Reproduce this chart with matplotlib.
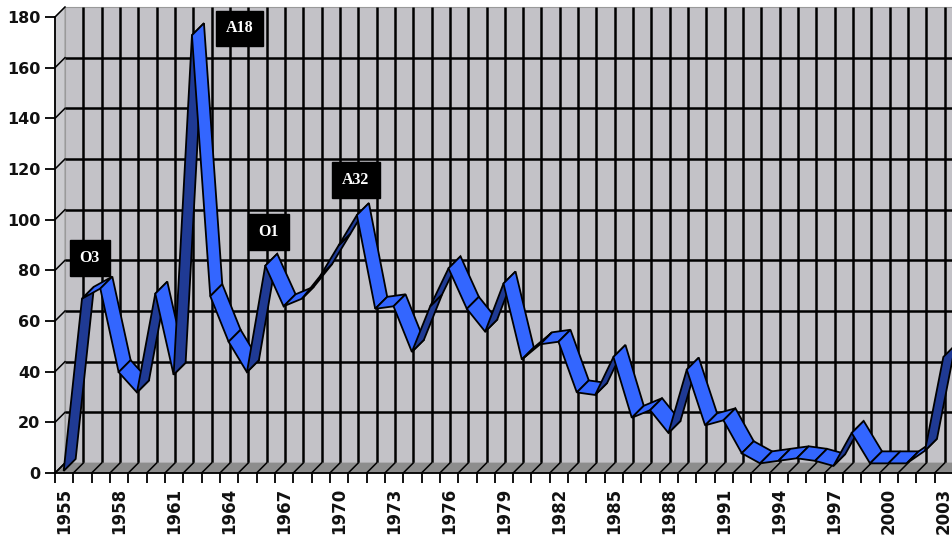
import numpy as np
import matplotlib
matplotlib.use('Agg')
import matplotlib.pyplot as plt
from matplotlib.patches import Polygon

# data (one value per year)
years = list(range(1955, 2004))
counts = [1, 69, 73, 40, 32, 71, 39, 173, 70, 52,
          40, 82, 66, 69, 78, 90, 102, 65, 66, 48,
          66, 81, 65, 56, 75, 45, 51, 52, 32, 31,
          46, 22, 25, 16, 41, 19, 21, 8, 4, 5,
          6, 5, 3, 16, 4, 4, 4, 9, 46]
yticks = list(range(0, 181, 20))

# callouts: text and the year they point at
callout_text = ['O3', 'A18', 'O1', 'A32']
callout_year = [1957, 1962, 1966, 1971]

WALL = '#c3c2c7'
FLOOR = '#8d8d8d'
LIGHT = '#3366ff'
DARK = '#1f3a94'


def main():
    n = len(years)
    fig = plt.figure(figsize=(9.52, 5.39), dpi=100)
    ax = fig.add_axes([55 / 952, 66 / 539, 898 / 952, 456 / 539])
    ax.set_xlim(-0.5, n - 0.5)
    ax.set_ylim(0, 180)
    ax.patch.set_visible(False)
    for side in ['top', 'right']:
        ax.spines[side].set_visible(False)
    for side in ['left', 'bottom']:
        ax.spines[side].set_linewidth(1.3)
        ax.spines[side].set_color('black')

    # pixel size of one data unit -> depth offset of the fake 3D box
    p0 = ax.transData.transform((0, 0))
    p1 = ax.transData.transform((1, 1))
    sx, sy = p1[0] - p0[0], p1[1] - p0[1]
    depth = 10
    DX, DY = depth / sx, depth / sy
    x0, x1 = -0.5, n - 0.5
    top = 180

    # back wall, side wall, floor
    ax.add_patch(Polygon([(x0 + DX, DY), (x1 + DX, DY), (x1 + DX, top + DY), (x0 + DX, top + DY)],
                         closed=True, fc=WALL, ec='#9a9a9a', lw=0.8, zorder=0.5, clip_on=False))
    ax.add_patch(Polygon([(x0, 0), (x0 + DX, DY), (x0 + DX, top + DY), (x0, top)],
                         closed=True, fc='#cbcbcf', ec='#9a9a9a', lw=0.8, zorder=0.5, clip_on=False))
    ax.add_patch(Polygon([(x0, 0), (x1, 0), (x1 + DX, DY), (x0 + DX, DY)],
                         closed=True, fc=FLOOR, ec=FLOOR, lw=0.5, zorder=0.7, clip_on=False))

    # gridlines on the back wall
    for v in yticks[1:-1]:
        ax.plot([x0 + DX, x1 + DX], [v + DY, v + DY], color='black', lw=1.8,
                zorder=0.6, clip_on=False, solid_capstyle='butt')
    for b in np.arange(x0 + 1, x1 + 0.01, 1):
        ax.plot([b + DX, b + DX], [DY, top + DY], color='black', lw=1.8,
                zorder=0.6, clip_on=False, solid_capstyle='butt')
    # small diagonals on floor and side wall
    for b in np.arange(x0, x1 + 0.01, 1):
        ax.plot([b, b + DX], [0, DY], color='black', lw=1.1, zorder=0.8, clip_on=False)
    for v in yticks:
        ax.plot([x0, x0 + DX], [v, v + DY], color='black', lw=1.1, zorder=0.8, clip_on=False)

    # ribbon
    fa, fb = -0.05, 1.15
    for i in range(n - 1):
        va, vb = counts[i], counts[i + 1]
        quad = [(i + fa * DX, va + fa * DY), (i + 1 + fa * DX, vb + fa * DY),
                (i + 1 + fb * DX, vb + fb * DY), (i + fb * DX, va + fb * DY)]
        seg = (sx, sy * (vb - va))
        dep = (sx * (fb - fa) * DX, sy * (fb - fa) * DY)
        cross = seg[0] * dep[1] - seg[1] * dep[0]
        color = LIGHT if cross > 0 else DARK
        ax.add_patch(Polygon(quad, closed=True, fc=color, ec='black', lw=1.3,
                             joinstyle='miter', zorder=2, clip_on=False))

    # ticks
    ax.set_xticks(np.arange(x0, x1 + 0.01, 1))
    ax.set_xticklabels([])
    ax.tick_params(axis='x', which='major', length=7, width=1.3, color='black')
    idx = list(range(0, n, 3))
    ax.set_xticks(idx, minor=True)
    ax.set_xticklabels([str(years[i]) for i in idx], minor=True, rotation=90,
                       fontsize=12, fontweight='bold', color='#111111')
    ax.tick_params(axis='x', which='minor', length=0, pad=10.5)
    ax.set_yticks(yticks)
    ax.set_yticklabels([str(v) for v in yticks], fontsize=11.5, fontweight='bold', color='#111111')
    ax.tick_params(axis='y', length=7, width=1.3, pad=3.5, color='black')

    # callouts
    offsets = [(-8, 21.5), (34, 4.5), (2, 24), (-1, 25)]
    for txt, yr, off in zip(callout_text, callout_year, offsets):
        i = years.index(yr)
        ax.annotate(txt, xy=(i, counts[i]), xytext=off, textcoords='offset points',
                    ha='center', va='center', color='white', fontsize=11.5,
                    fontweight='bold', family='Liberation Serif', zorder=3,
                    bbox=dict(boxstyle='square,pad=0.62', fc='black', ec='black'))

    fig.savefig('out.png', dpi=100)


if __name__ == "__main__":
    main()
